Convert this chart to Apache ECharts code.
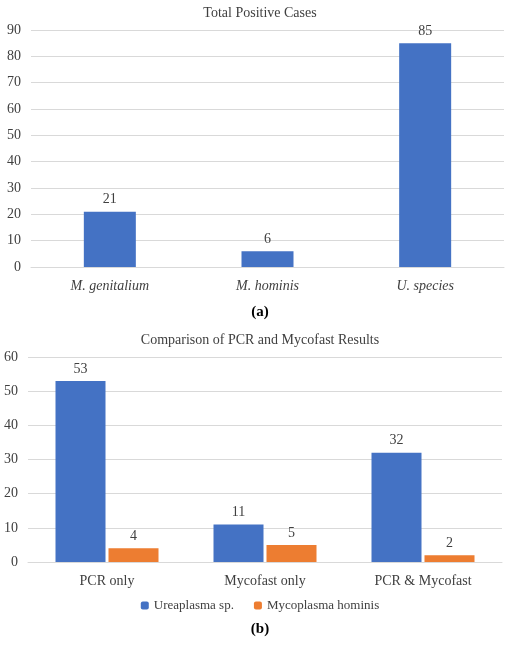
<!DOCTYPE html>
<html><head><meta charset="utf-8">
<script src="https://cdn.jsdelivr.net/npm/echarts@6/dist/echarts.min.js"></script>
</head>
<body style="margin:0;padding:0;background:#fff;">
<div id="chart" style="width:520px;height:645px;"></div>
<script>
const speciesCats = ['M. genitalium', 'M. hominis', 'U. species'];
const totalPositive = [21, 6, 85];
const methodCats = ['PCR only', 'Mycofast only', 'PCR & Mycofast'];
const ureaplasma = [53, 11, 32];
const mhominis = [4, 5, 2];

const font = 'Liberation Serif';
const txt = { fontFamily: font, fontSize: 14, color: '#404040' };
const blue = '#4472C4', orange = '#ED7D31';
const split = { show: true, lineStyle: { color: '#d9d9d9' } };
const xLine = { show: true, lineStyle: { color: '#d9d9d9' } };

const chart = echarts.init(document.getElementById('chart'));
chart.setOption({
  animation: false,
  textStyle: { fontFamily: font },
  title: [
    { text: 'Total Positive Cases', left: 'center', top: 1, textStyle: { ...txt, fontWeight: 'normal' } },
    { text: '(a)', left: 'center', top: 300, textStyle: { fontFamily: font, fontSize: 15, fontWeight: 'bold', color: '#000' } },
    { text: 'Comparison of PCR and Mycofast Results', left: 'center', top: 328, textStyle: { ...txt, fontWeight: 'normal' } },
    { text: '(b)', left: 'center', top: 617, textStyle: { fontFamily: font, fontSize: 15, fontWeight: 'bold', color: '#000' } }
  ],
  legend: {
    top: 594, left: 'center', itemWidth: 8, itemHeight: 8, itemGap: 20,
    textStyle: { ...txt, fontSize: 13 },
    data: ['Ureaplasma sp.', 'Mycoplasma hominis']
  },
  grid: [
    { left: 31, right: 16, top: 30, height: 237 },
    { left: 28, right: 18, top: 357, height: 205 }
  ],
  xAxis: [
    { type: 'category', gridIndex: 0, data: speciesCats, axisLine: xLine, axisTick: { show: false },
      axisLabel: { ...txt, fontStyle: 'italic', margin: 12 } },
    { type: 'category', gridIndex: 1, data: methodCats, axisLine: xLine, axisTick: { show: false },
      axisLabel: { ...txt, margin: 12 } }
  ],
  yAxis: [
    { type: 'value', gridIndex: 0, min: 0, max: 90, interval: 10, splitLine: split, axisLabel: { ...txt, margin: 10 } },
    { type: 'value', gridIndex: 1, min: 0, max: 60, interval: 10, splitLine: split, axisLabel: { ...txt, margin: 10 } }
  ],
  series: [
    { type: 'bar', xAxisIndex: 0, yAxisIndex: 0, data: totalPositive, barWidth: 52,
      itemStyle: { color: blue }, label: { show: true, position: 'top', ...txt } },
    { name: 'Ureaplasma sp.', type: 'bar', xAxisIndex: 1, yAxisIndex: 1, data: ureaplasma, barWidth: 50, barGap: '6%',
      itemStyle: { color: blue }, label: { show: true, position: 'top', ...txt } },
    { name: 'Mycoplasma hominis', type: 'bar', xAxisIndex: 1, yAxisIndex: 1, data: mhominis, barWidth: 50, barGap: '6%',
      itemStyle: { color: orange }, label: { show: true, position: 'top', ...txt } }
  ]
});
</script>
</body></html>
